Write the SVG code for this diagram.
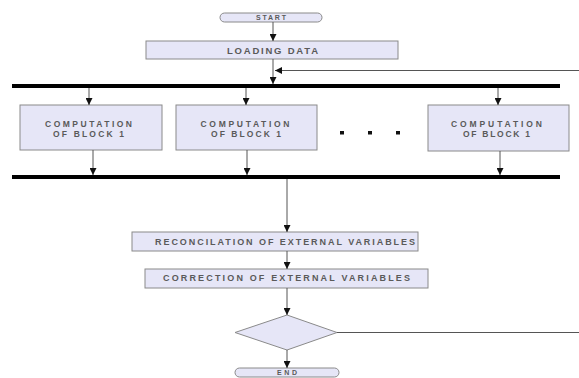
<svg xmlns="http://www.w3.org/2000/svg" width="579" height="378" viewBox="0 0 579 378">
<defs>
<marker id="ah" viewBox="0 0 8 8" refX="8" refY="4" markerWidth="7" markerHeight="7" orient="auto" markerUnits="userSpaceOnUse">
<path d="M0,0 L8,4 L0,8 Z" fill="#111"/>
</marker>
<style>
.box{fill:#e6e6f7;stroke:#8a8a8a;stroke-width:1}
.t{font-family:"Liberation Sans",Arial,sans-serif;font-weight:bold;fill:#5a5a5a;text-anchor:middle}
.c{stroke:#555;stroke-width:1;fill:none}
.ca{stroke:#555;stroke-width:1;fill:none;marker-end:url(#ah)}
.bar{stroke:#000;stroke-width:4}
</style>
</defs>
<rect width="579" height="378" fill="#fff"/>

<g id="start">
<rect class="box" x="220" y="13" width="102" height="9" rx="4.5"/>
<text class="t" x="271" y="20.3" font-size="7" textLength="30" lengthAdjust="spacing">START</text>
</g>
<g id="loading">
<rect class="box" x="146" y="41" width="252" height="18"/>
<text class="t" x="272.5" y="53.5" font-size="9.5" textLength="91" lengthAdjust="spacing">LOADING DATA</text>
</g>
<g id="bar-top"><line class="bar" x1="12" y1="86" x2="560" y2="86"/></g>
<g id="block1">
<rect class="box" x="20" y="105" width="142" height="45"/>
<text class="t" x="88.5" y="127.3" font-size="8.5" textLength="87" lengthAdjust="spacing">COMPUTATION</text>
<text class="t" x="88.5" y="136.6" font-size="8.5" textLength="71" lengthAdjust="spacing">OF BLOCK 1</text>
</g>
<g id="block2">
<rect class="box" x="176" y="105" width="141" height="45"/>
<text class="t" x="245" y="127.3" font-size="8.5" textLength="89" lengthAdjust="spacing">COMPUTATION</text>
<text class="t" x="246" y="136.6" font-size="8.5" textLength="70" lengthAdjust="spacing">OF BLOCK 1</text>
</g>
<g id="dots" fill="#111">
<rect x="340" y="131" width="4" height="3.5"/>
<rect x="368" y="131" width="4" height="3.5"/>
<rect x="396" y="131" width="4" height="3.5"/>
</g>
<g id="block3">
<rect class="box" x="428" y="105" width="141" height="46"/>
<text class="t" x="496.5" y="127.3" font-size="8.5" textLength="91" lengthAdjust="spacing">COMPUTATION</text>
<text class="t" x="496.5" y="136.6" font-size="8.5" textLength="67" lengthAdjust="spacing">OF BLOCK 1</text>
</g>
<g id="bar-bottom"><line class="bar" x1="12" y1="177" x2="560" y2="177"/></g>
<g id="reconciliation">
<rect class="box" x="132" y="232" width="286" height="19"/>
<text class="t" x="285" y="244.6" font-size="9" textLength="260" lengthAdjust="spacing">RECONCILATION OF EXTERNAL VARIABLES</text>
</g>
<g id="correction">
<rect class="box" x="145" y="269" width="283" height="19"/>
<text class="t" x="286.5" y="281.3" font-size="9" textLength="247" lengthAdjust="spacing">CORRECTION OF EXTERNAL VARIABLES</text>
</g>
<g id="decision">
<polygon class="box" points="287,315 337,332.5 287,350 235,332.5"/>
</g>
<g id="end">
<rect class="box" x="235" y="368" width="104" height="9" rx="4.5"/>
<text class="t" x="287" y="375.3" font-size="7" textLength="20" lengthAdjust="spacing">END</text>
</g>

<g id="connectors">
<line class="ca" x1="273" y1="22" x2="273" y2="41"/>
<line class="c" x1="273" y1="59" x2="273" y2="70"/>
<line class="ca" x1="273" y1="70" x2="273" y2="84"/>
<line class="ca" x1="579" y1="70.5" x2="275" y2="70.5"/>
<line class="ca" x1="89" y1="88" x2="89" y2="105"/>
<line class="ca" x1="246" y1="88" x2="246" y2="105"/>
<line class="ca" x1="498" y1="88" x2="498" y2="105"/>
<line class="ca" x1="93" y1="150" x2="93" y2="175"/>
<line class="ca" x1="247" y1="150" x2="247" y2="175"/>
<line class="ca" x1="500" y1="151" x2="500" y2="175"/>
<line class="ca" x1="287" y1="179" x2="287" y2="232"/>
<line class="ca" x1="287" y1="251" x2="287" y2="269"/>
<line class="ca" x1="287" y1="288" x2="287" y2="315"/>
<line class="ca" x1="287" y1="350" x2="287" y2="368"/>
<line class="c" x1="337" y1="332.5" x2="579" y2="332.5"/>
</g>
</svg>
